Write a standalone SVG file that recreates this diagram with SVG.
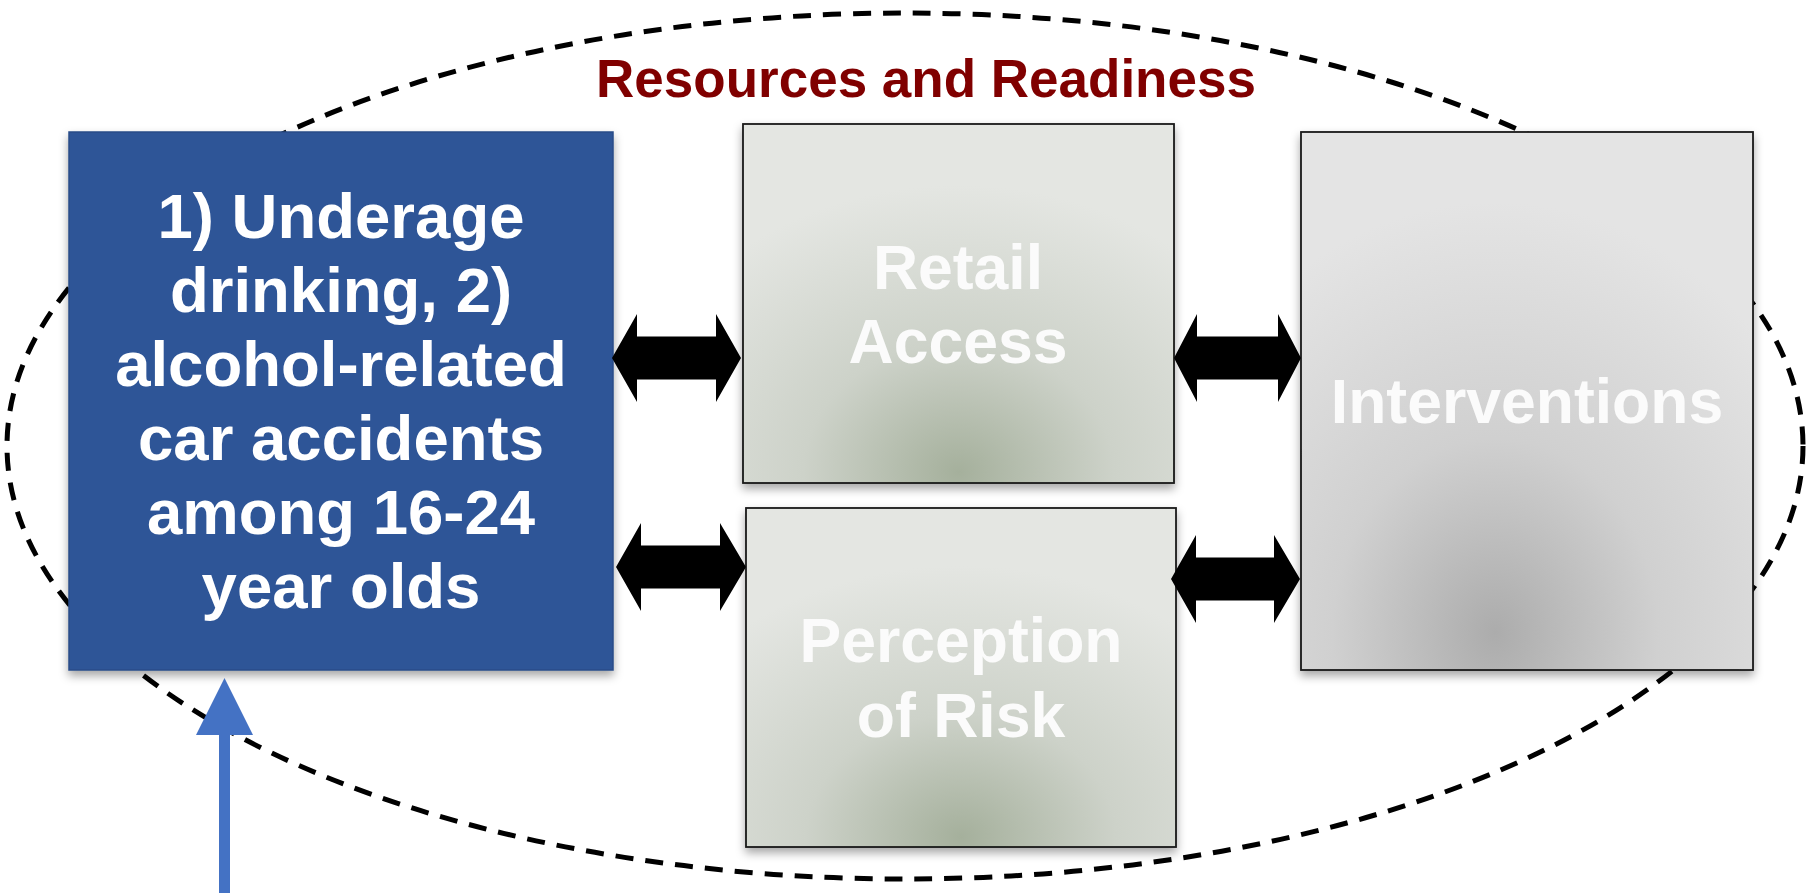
<svg xmlns="http://www.w3.org/2000/svg" width="1806" height="893" viewBox="0 0 1806 893">
  <style>
    .lbl { font-family: "Liberation Sans", Arial, sans-serif; font-weight: bold; text-anchor: middle; }
    .white { fill: #ffffff; font-size: 63.5px; }
    .pale { fill: #fbfbfb; font-size: 62.5px; }
    .title { fill: #800000; font-size: 53px; }
    .box { stroke: #1a1a1a; stroke-width: 1.8; }
    .dbl { fill: #000000; }
  </style>
  <defs>
    <filter id="sh" x="-10%" y="-10%" width="120%" height="125%">
      <feDropShadow dx="0" dy="5" stdDeviation="5" flood-color="#000" flood-opacity="0.35"/>
    </filter>
    <radialGradient id="gGreen" cx="0.5" cy="0.97" r="0.8" fx="0.5" fy="0.97">
      <stop offset="0" stop-color="#a5b09c"/>
      <stop offset="0.45" stop-color="#cdd2c9"/>
      <stop offset="1" stop-color="#e4e6e2"/>
    </radialGradient>
    <radialGradient id="gGray" cx="0.43" cy="0.93" r="0.8" fx="0.43" fy="0.93">
      <stop offset="0" stop-color="#acacac"/>
      <stop offset="0.45" stop-color="#d0d0d0"/>
      <stop offset="1" stop-color="#e4e4e4"/>
    </radialGradient>
  </defs>

  <rect x="0" y="0" width="1806" height="893" fill="#ffffff"/>

  <g id="resources-readiness">
    <ellipse cx="905" cy="446" rx="898" ry="433" fill="none" stroke="#000" stroke-width="5" stroke-dasharray="18 12"/>
    <text class="lbl title" x="926" y="97">Resources and Readiness</text>
  </g>

  <g id="problem">
    <rect x="69" y="132" width="544" height="538" fill="#2f5597" stroke="#2a4c88" stroke-width="1.5" filter="url(#sh)"/>
    <text class="lbl white" x="341" y="238">1) Underage</text>
    <text class="lbl white" x="341" y="312">drinking, 2)</text>
    <text class="lbl white" x="341" y="386">alcohol-related</text>
    <text class="lbl white" x="341" y="460">car accidents</text>
    <text class="lbl white" x="341" y="534">among 16-24</text>
    <text class="lbl white" x="341" y="608">year olds</text>
  </g>

  <g id="retail-access">
    <rect class="box" x="743" y="124" width="431" height="359" fill="url(#gGreen)" filter="url(#sh)"/>
    <text class="lbl pale" x="958" y="289">Retail</text>
    <text class="lbl pale" x="958" y="363">Access</text>
  </g>

  <g id="perception-of-risk">
    <rect class="box" x="746" y="508" width="430" height="339" fill="url(#gGreen)" filter="url(#sh)"/>
    <text class="lbl pale" x="961" y="662">Perception</text>
    <text class="lbl pale" x="961" y="737">of Risk</text>
  </g>

  <g id="interventions">
    <rect class="box" x="1301" y="132" width="452" height="538" fill="url(#gGray)" filter="url(#sh)"/>
    <text class="lbl pale" x="1527" y="423">Interventions</text>
  </g>

  <g id="connectors">
    <path class="dbl" d="M612,358 L637,314 L637,336.5 L716,336.5 L716,314 L741,358 L716,402 L716,379.5 L637,379.5 L637,402 Z"/>
    <path class="dbl" d="M616,567 L641,523 L641,545.5 L720,545.5 L720,523 L746,567 L720,611 L720,588.5 L641,588.5 L641,611 Z"/>
    <path class="dbl" d="M1174,358 L1197,314 L1197,336.5 L1278,336.5 L1278,314 L1301,358 L1278,402 L1278,379.5 L1197,379.5 L1197,402 Z"/>
    <path class="dbl" d="M1171,579 L1196,535 L1196,557.5 L1274,557.5 L1274,535 L1300,579 L1274,623 L1274,600.5 L1196,600.5 L1196,623 Z"/>
    <g id="blue-arrow" fill="#4472c4">
      <rect x="219" y="734" width="11" height="159"/>
      <polygon points="224.5,678 196,735 253,735"/>
    </g>
  </g>
</svg>
